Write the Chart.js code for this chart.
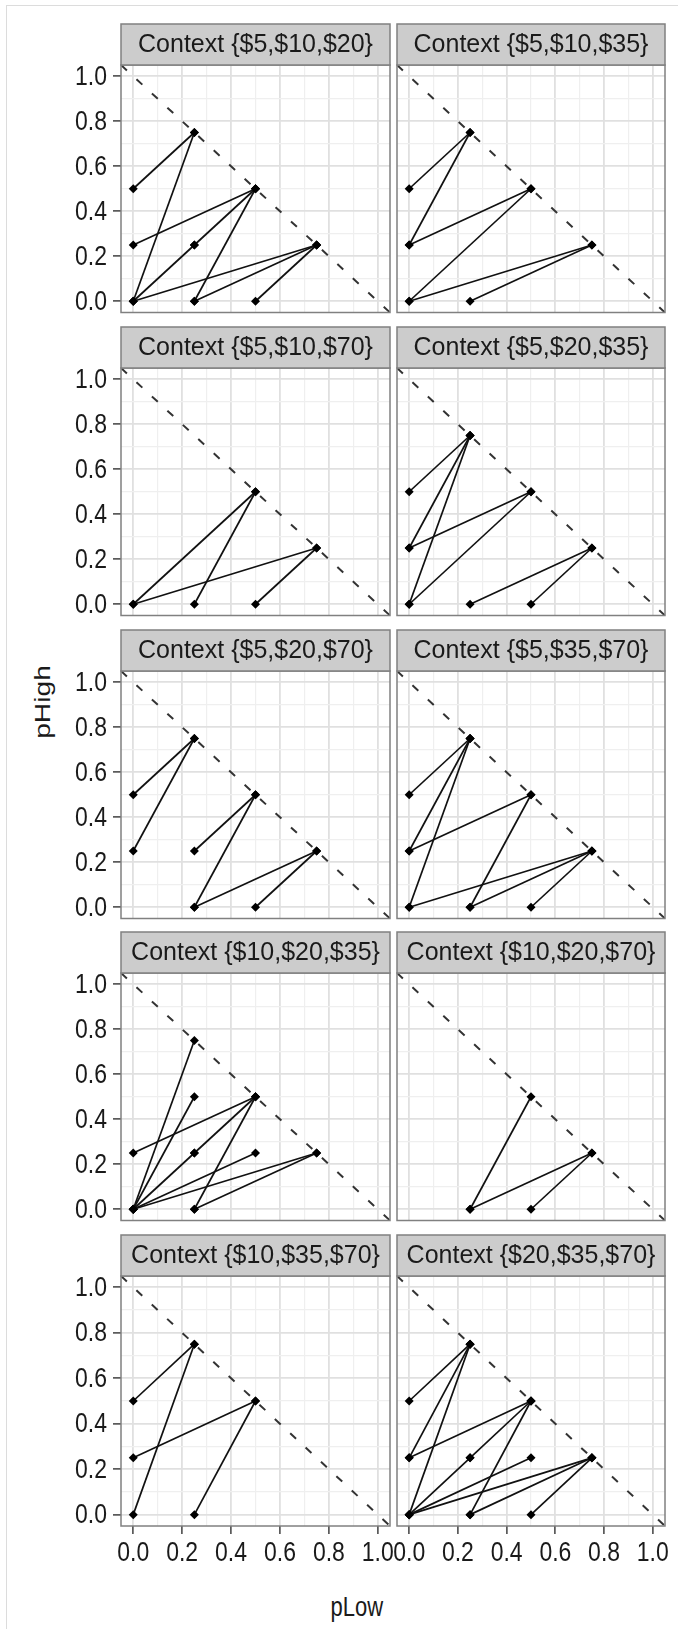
<!DOCTYPE html>
<html>
<head>
<meta charset="utf-8">
<script src="https://cdn.jsdelivr.net/npm/chart.js@4.4.1/dist/chart.umd.min.js"></script>
<style>
body { margin: 0; background: #fff; width: 678px; height: 1629px; position: relative; overflow: hidden; font-family: "Liberation Sans", Arial, sans-serif; }
canvas { position: absolute; }
.frame { position: absolute; left: 6px; top: 5px; right: 0; bottom: 0; border-left: 1px solid #dcdcdc; border-top: 1px solid #dcdcdc; }
.axtitle { position: absolute; font-size: 22px; color: #1a1a1a; white-space: nowrap; line-height: 1; }
</style>
</head>
<body>
<div class="frame"></div>
<div class="axtitle" id="yTitle">pHigh</div>
<div class="axtitle" id="xTitle">pLow</div>
<script>
// facet labels
const contexts = [
    'Context {$5,$10,$20}', 'Context {$5,$10,$35}',
    'Context {$5,$10,$70}', 'Context {$5,$20,$35}',
    'Context {$5,$20,$70}', 'Context {$5,$35,$70}',
    'Context {$10,$20,$35}', 'Context {$10,$20,$70}',
    'Context {$10,$35,$70}', 'Context {$20,$35,$70}'
]

// segments: [pLow1, pHigh1, pLow2, pHigh2]
const seg5_10_20 = [[0, .5, .25, .75], [.25, .75, 0, 0], [0, .25, .5, .5], [0, 0, .25, .25], [.25, .25, .5, .5], [.5, .5, .25, 0], [0, 0, .75, .25], [.25, 0, .75, .25], [.5, 0, .75, .25]]
const seg5_10_35 = [[0, .5, .25, .75], [.25, .75, 0, .25], [0, .25, .5, .5], [.5, .5, 0, 0], [0, 0, .75, .25], [.25, 0, .75, .25]]
const seg5_10_70 = [[0, 0, .5, .5], [.25, 0, .5, .5], [0, 0, .75, .25], [.5, 0, .75, .25]]
const seg5_20_35 = [[0, .5, .25, .75], [0, .25, .25, .75], [0, 0, .25, .75], [0, .25, .5, .5], [0, 0, .5, .5], [.25, 0, .75, .25], [.5, 0, .75, .25]]
const seg5_20_70 = [[0, .5, .25, .75], [0, .25, .25, .75], [.25, .25, .5, .5], [.25, 0, .5, .5], [.25, 0, .75, .25], [.5, 0, .75, .25]]
const seg5_35_70 = [[0, .5, .25, .75], [0, .25, .25, .75], [0, 0, .25, .75], [0, .25, .5, .5], [.25, 0, .5, .5], [0, 0, .75, .25], [.25, 0, .75, .25], [.5, 0, .75, .25]]
const seg10_20_35 = [[0, 0, .25, .75], [0, 0, .25, .5], [0, 0, .25, .25], [.25, .25, .5, .5], [0, .25, .5, .5], [.25, 0, .5, .5], [0, 0, .5, .25], [0, 0, .75, .25], [.25, 0, .75, .25]]
const seg10_20_70 = [[.25, 0, .5, .5], [.25, 0, .75, .25], [.5, 0, .75, .25]]
const seg10_35_70 = [[0, .5, .25, .75], [.25, .75, 0, 0], [0, .25, .5, .5], [.5, .5, .25, 0]]
const seg20_35_70 = [[0, .5, .25, .75], [0, .25, .25, .75], [0, 0, .25, .75], [0, .25, .5, .5], [0, 0, .25, .25], [.25, .25, .5, .5], [.25, 0, .5, .5], [0, 0, .5, .25], [0, 0, .75, .25], [.25, 0, .75, .25], [.5, 0, .75, .25]]

const panelSegs = [seg5_10_20, seg5_10_35, seg5_10_70, seg5_20_35, seg5_20_70, seg5_35_70, seg10_20_35, seg10_20_70, seg10_35_70, seg20_35_70]

// grid values (major every 0.2, minor between) and labelled ticks
const gridValues = [0, 0.1, 0.2, 0.3, 0.4, 0.5, 0.6, 0.7, 0.8, 0.9, 1.0]
const tickLabels = ['0.0', '0.2', '0.4', '0.6', '0.8', '1.0']
const axisMin = -0.05
const axisMax = 1.05

const STRIP_H = 41
const PANEL_H = 250
const TICK_LEN = 8
const TEXT_STRETCH = 1.2
const panelTops = [65, 368, 671, 973, 1276]
const FONT = '"Liberation Sans", Arial, sans-serif'

const isMajor = v => Math.abs(v * 5 - Math.round(v * 5)) < 1e-6

// panel border, grey strip with facet label, tick labels
const stripPlugin = {
    id: 'strip',
    afterDraw(chart, args, opts) {
        const { ctx, chartArea: a } = chart
        ctx.save()
        ctx.strokeStyle = '#808080'
        ctx.lineWidth = 1.5
        ctx.strokeRect(a.left, a.top, a.right - a.left, a.bottom - a.top)
        ctx.fillStyle = '#cccccc'
        ctx.fillRect(a.left, a.top - STRIP_H, a.right - a.left, STRIP_H)
        ctx.strokeRect(a.left, a.top - STRIP_H, a.right - a.left, STRIP_H)
        ctx.fillStyle = '#1a1a1a'
        ctx.font = '25px ' + FONT
        ctx.textAlign = 'center'
        ctx.textBaseline = 'middle'
        ctx.fillText(opts.text, (a.left + a.right) / 2, a.top - STRIP_H / 2 + 1)

        ctx.font = '23px ' + FONT
        if (opts.yLabels) {
            ctx.textAlign = 'right'
            ctx.textBaseline = 'middle'
            tickLabels.forEach(t => {
                const py = chart.scales.y.getPixelForValue(parseFloat(t))
                ctx.save()
                ctx.translate(a.left - TICK_LEN - 6, py + 1)
                ctx.scale(1, TEXT_STRETCH)
                ctx.fillText(t, 0, 0)
                ctx.restore()
            })
        }
        if (opts.xLabels) {
            ctx.textAlign = 'center'
            ctx.textBaseline = 'top'
            tickLabels.forEach(t => {
                const px = chart.scales.x.getPixelForValue(parseFloat(t))
                ctx.save()
                ctx.translate(px, a.bottom + TICK_LEN + 6)
                ctx.scale(1, TEXT_STRETCH)
                ctx.fillText(t, 0, 0)
                ctx.restore()
            })
        }
        ctx.restore()
    }
}

const gridColor = c => {
    if (!c.tick) return 'transparent'
    return isMajor(c.tick.value) ? '#e0e0e0' : '#efefef'
}
const gridWidth = c => (c.tick && isMajor(c.tick.value)) ? 1.8 : 1.2
const tickColor = c => (c.tick && isMajor(c.tick.value)) ? '#333' : 'transparent'

const makePanel = (i) => {
    const row = Math.floor(i / 2)
    const col = i % 2
    const bottomRow = row === 4
    const leftCol = col === 0

    const canvas = document.createElement('canvas')
    const cl = leftCol ? 0 : 391
    const cw = leftCol ? 398 : 282
    const ct = panelTops[row] - STRIP_H - 2
    const xh = bottomRow ? 62 : 0
    const ch = STRIP_H + 2 + PANEL_H + xh + (bottomRow ? 0 : 2)
    canvas.width = cw
    canvas.height = ch
    canvas.style.left = cl + 'px'
    canvas.style.top = ct + 'px'
    canvas.style.width = cw + 'px'
    canvas.style.height = ch + 'px'
    document.body.appendChild(canvas)

    const datasets = panelSegs[i].map(s => ({
        data: [{ x: s[0], y: s[1] }, { x: s[2], y: s[3] }],
        borderColor: '#111',
        borderWidth: 1.7,
        pointStyle: 'rectRot',
        pointRadius: 4.5,
        pointBackgroundColor: '#000',
        pointBorderWidth: 0,
        order: 0
    }))
    datasets.push({
        data: [{ x: axisMin, y: axisMax }, { x: axisMax, y: axisMin }],
        borderColor: '#333',
        borderWidth: 2,
        borderDash: [8, 13],
        pointRadius: 0,
        order: 1
    })

    new Chart(canvas, {
        type: 'line',
        data: { datasets },
        options: {
            responsive: false,
            animation: false,
            events: [],
            layout: {
                padding: { left: leftCol ? 0 : 6, right: 8, top: STRIP_H + 2, bottom: bottomRow ? 0 : 2 }
            },
            plugins: {
                legend: { display: false },
                tooltip: { enabled: false },
                strip: { text: contexts[i], yLabels: leftCol, xLabels: bottomRow }
            },
            scales: {
                x: {
                    type: 'linear',
                    min: axisMin,
                    max: axisMax,
                    afterBuildTicks: s => { s.ticks = gridValues.map(v => ({ value: v })) },
                    afterFit: s => {
                        s.height = xh
                        s.paddingLeft = 0
                        s.paddingRight = 0
                    },
                    border: { display: false },
                    grid: { color: gridColor, lineWidth: gridWidth, drawTicks: bottomRow, tickLength: TICK_LEN, tickColor: tickColor, tickWidth: 1.4 },
                    ticks: { display: false }
                },
                y: {
                    type: 'linear',
                    min: axisMin,
                    max: axisMax,
                    afterBuildTicks: s => { s.ticks = gridValues.map(v => ({ value: v })) },
                    afterFit: s => {
                        s.width = leftCol ? 121 : 0
                        s.paddingTop = 0
                        s.paddingBottom = 0
                    },
                    border: { display: false },
                    grid: { color: gridColor, lineWidth: gridWidth, drawTicks: leftCol, tickLength: TICK_LEN, tickColor: tickColor, tickWidth: 1.4 },
                    ticks: { display: false }
                }
            }
        },
        plugins: [stripPlugin]
    })
}

for (let i = 0; i < contexts.length; i++) {
    makePanel(i)
}

// axis titles
const yTitle = document.getElementById('yTitle')
yTitle.style.left = (42 - yTitle.offsetWidth / 2) + 'px'
yTitle.style.top = (702 - yTitle.offsetHeight / 2) + 'px'
yTitle.style.transform = 'rotate(-90deg) scaleX(1.28)'
const xTitle = document.getElementById('xTitle')
xTitle.style.left = (357 - xTitle.offsetWidth / 2) + 'px'
xTitle.style.top = (1607 - xTitle.offsetHeight / 2) + 'px'
xTitle.style.transform = 'scaleY(1.28)'
</script>
</body>
</html>
